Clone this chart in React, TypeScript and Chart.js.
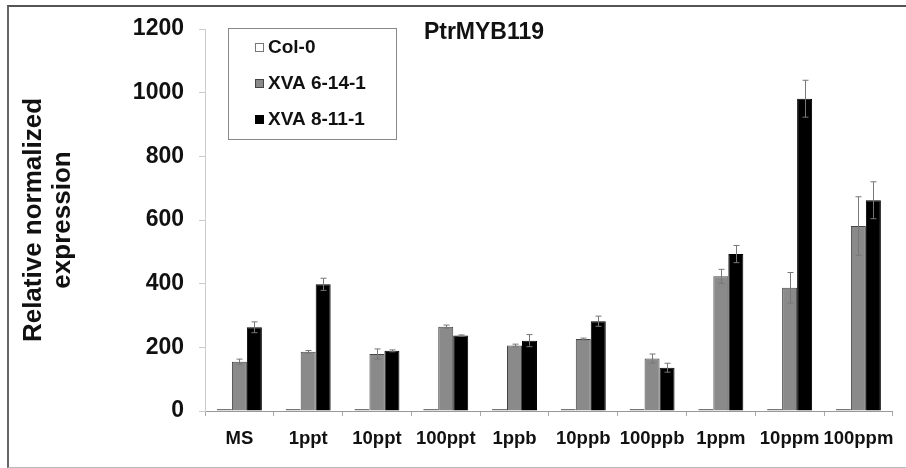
import React, { useEffect, useRef } from "react";
import { Chart, registerables } from "chart.js";

Chart.register(...registerables);

const categories = ["MS", "1ppt", "10ppt", "100ppt", "1ppb", "10ppb", "100ppb", "1ppm", "10ppm", "100ppm"];
const seriesNames = ["Col-0", "XVA 6-14-1", "XVA 8-11-1"];
const col0Values = [1, 1, 1, 1, 1, 1, 1, 1, 1, 1];
const col0Errors = [0, 0, 0, 0, 0, 0, 0, 0, 0, 0];
const xva61Values = [155, 186, 179, 265, 206, 226, 165, 423, 387, 581];
const xva61Errors = [8, 4, 16, 5, 4, 3, 14, 22, 48, 92];
const xva81Values = [263, 398, 189, 237, 221, 282, 136, 493, 981, 662];
const xva81Errors = [17, 19, 3, 2, 19, 16, 14, 27, 58, 58];
const yTicks = [0, 200, 400, 600, 800, 1000, 1200];
const chartTitle = "PtrMYB119";
const yTitle = ["Relative normalized", "expression"];

const FONT = '"Liberation Sans", Arial, sans-serif';
const fillColors = ["#ffffff", "#8a8a8a", "#000000"];
const borderColors = ["#777777", "#444444", "#000000"];

const errorBarPlugin = {
  id: "errorBars",
  afterDatasetsDraw(chart: any) {
    const ctx = chart.ctx;
    const yScale = chart.scales.y;
    const errs = [col0Errors, xva61Errors, xva81Errors];
    ctx.save();
    ctx.strokeStyle = "#777";
    ctx.lineWidth = 1;
    chart.data.datasets.forEach((ds: any, di: number) => {
      const meta = chart.getDatasetMeta(di);
      meta.data.forEach((bar: any, i: number) => {
        const e = errs[di][i];
        if (!e) return;
        const v = ds.data[i];
        const x = Math.round(bar.x) + 0.5;
        const yt = yScale.getPixelForValue(v + e);
        const yb = yScale.getPixelForValue(v - e);
        ctx.beginPath();
        ctx.moveTo(x, yt);
        ctx.lineTo(x, yb);
        ctx.moveTo(x - 3, yt);
        ctx.lineTo(x + 3, yt);
        ctx.moveTo(x - 3, yb);
        ctx.lineTo(x + 3, yb);
        ctx.stroke();
      });
    });
    ctx.restore();
  },
};

const overlayPlugin = {
  id: "overlay",
  afterDraw(chart: any) {
    const ctx = chart.ctx;
    const ca = chart.chartArea;
    ctx.save();
    // title
    ctx.fillStyle = "#111";
    ctx.font = `bold 23px ${FONT}`;
    ctx.textAlign = "center";
    ctx.textBaseline = "middle";
    ctx.fillText(chartTitle, ca.left + 279, ca.top + 4);
    // legend
    const bx = ca.left + 23;
    const by = ca.top - 1;
    const bw = 168;
    const bh = 111;
    ctx.strokeStyle = "#888";
    ctx.lineWidth = 1;
    ctx.strokeRect(bx + 0.5, by + 0.5, bw, bh);
    ctx.font = `bold 19px ${FONT}`;
    ctx.textAlign = "left";
    seriesNames.forEach((name, i) => {
      const ry = by + 20 + i * 36;
      ctx.fillStyle = fillColors[i];
      ctx.fillRect(bx + 27, ry - 5, 9, 9);
      ctx.strokeStyle = borderColors[i];
      ctx.strokeRect(bx + 27.5, ry - 4.5, 8, 8);
      ctx.fillStyle = "#111";
      ctx.fillText(name, bx + 40, ry);
    });
    ctx.restore();
  },
};

function App() {
  const ref = useRef<HTMLCanvasElement>(null);
  useEffect(() => {
    if (!ref.current) return;
    const values = [col0Values, xva61Values, xva81Values];
    const chart = new Chart(ref.current, {
      type: "bar",
      data: {
        labels: categories,
        datasets: seriesNames.map((name, i) => ({
          label: name,
          data: values[i],
          backgroundColor: fillColors[i],
          borderColor: borderColors[i],
          borderWidth: 1,
          borderSkipped: i === 0 ? false : "start",
          minBarLength: i === 0 ? 2 : 0,
          barPercentage: 1,
          categoryPercentage: 0.654,
        })),
      },
      options: {
        responsive: false,
        animation: false,
        events: [],
        layout: { padding: { top: 29, right: 13, bottom: 0, left: 0 } },
        plugins: {
          legend: { display: false },
          title: { display: false },
          tooltip: { enabled: false },
        },
        scales: {
          x: {
            grid: { offset: true, drawOnChartArea: false, drawTicks: true, tickLength: 5, color: "#aaa" },
            border: { color: "#999", width: 1 },
            ticks: { color: "#111", font: { family: FONT, size: 18.5, weight: "bold" }, padding: 12, maxRotation: 0, autoSkip: false },
            afterFit: (s: any) => { s.height = 57; },
          },
          y: {
            min: 0,
            max: 1200,
            afterBuildTicks: (s: any) => { s.ticks = yTicks.map((v) => ({ value: v })); },
            grid: { drawOnChartArea: false, drawTicks: true, tickLength: 6, color: "#ccc" },
            border: { color: "#ccc", width: 1 },
            ticks: {
              color: "#111",
              font: { family: FONT, size: 23, weight: "bold" },
              padding: 15,
              callback: (v: any) => String(v),
            },
            title: {
              display: true,
              text: yTitle,
              color: "#111",
              font: { family: FONT, size: 26, weight: "bold", lineHeight: 1.1 },
              padding: { top: 20, bottom: 0 },
            },
            afterFit: (s: any) => { s.width = 205; },
          },
        },
      },
      plugins: [errorBarPlugin, overlayPlugin],
    } as any);
    return () => chart.destroy();
  }, []);

  return (
    <div style={{ position: "absolute", left: 0, top: 0, width: 906, height: 468, background: "#fff" }}>
      <div
        style={{
          position: "absolute",
          left: 7,
          top: 5,
          width: 899,
          height: 463,
          boxSizing: "border-box",
          borderTop: "2px solid #555",
          borderLeft: "2px solid #666",
          borderBottom: "1px solid #bbb",
        }}
      />
      <canvas ref={ref} width={906} height={468} style={{ position: "absolute", left: 0, top: 0 }} />
    </div>
  );
}

export default App;
